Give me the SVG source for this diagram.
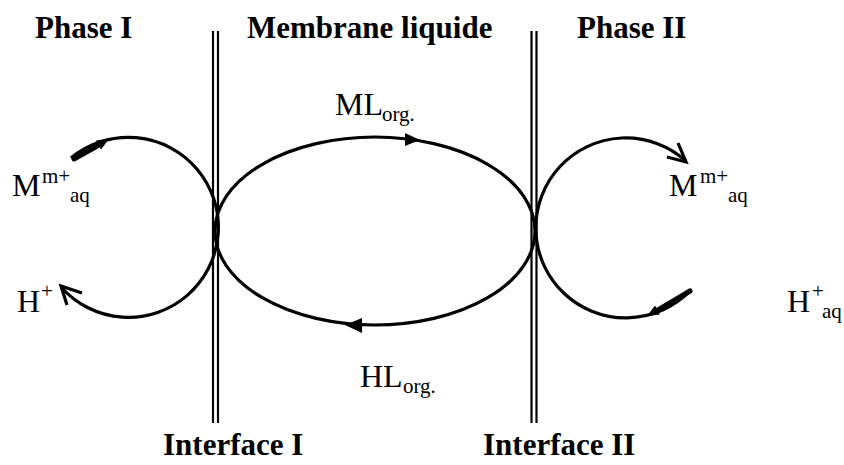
<svg xmlns="http://www.w3.org/2000/svg" width="844" height="465" viewBox="0 0 844 465">
<style>
.t{font-family:"Liberation Serif","Times New Roman",serif;fill:#000}
.b{font-weight:bold;font-size:31px}
.n{font-size:32px}
.s{font-size:21px}
.ln{stroke:#000;stroke-width:2.2;fill:none}
.c{stroke:#000;stroke-width:3.2;fill:none}
.thick{stroke:#000;stroke-width:5;fill:none;stroke-linecap:round}
.h{fill:#000;stroke:none}
</style>
<rect width="844" height="465" fill="#fff"/>
<g id="labels">
<text class="t b" x="35" y="38">Phase I</text>
<text class="t b" x="247" y="38">Membrane liquide</text>
<text class="t b" x="577" y="38">Phase II</text>
<text class="t b" x="163" y="455">Interface I</text>
<text class="t b" x="483" y="455">Interface II</text>
</g>
<g id="interface1">
<line class="ln" x1="213" y1="31" x2="213" y2="423"/>
<line class="ln" x1="218" y1="31" x2="218" y2="423"/>
</g>
<g id="interface2">
<line class="ln" x1="531.5" y1="31" x2="531.5" y2="423"/>
<line class="ln" x1="536.5" y1="31" x2="536.5" y2="423"/>
</g>
<g id="M-left"><text class="t n" x="12" y="196">M</text><text class="t s" x="42" y="183">m+</text><text class="t s" x="70" y="202">aq</text></g>
<g id="H-left"><text class="t n" x="17" y="312">H</text><text class="t s" x="41" y="298">+</text></g>
<g id="ML"><text class="t n" x="335" y="115">ML</text><text class="t s" x="382" y="121">org.</text></g>
<g id="HL"><text class="t n" x="360" y="387">HL</text><text class="t s" x="403" y="393">org.</text></g>
<g id="M-right"><text class="t n" x="669" y="196">M</text><text class="t s" x="700" y="183">m+</text><text class="t s" x="728" y="202">aq</text></g>
<g id="H-right"><text class="t n" x="787" y="312">H</text><text class="t s" x="812" y="298">+</text><text class="t s" x="822" y="318">aq</text></g>
<g id="connectors">
<path class="c" d="M71,158 A90 90 0 1 1 61,287"/>
<line class="thick" x1="74" y1="159" x2="99" y2="145"/>
<polygon class="h" points="109,139 101,149.5 96,140.5"/>
<polyline class="c" points="82,293 61,286 67,305"/>
<ellipse class="c" cx="375" cy="231" rx="160" ry="94"/>
<polygon class="h" points="420,140 405,133 405,146"/>
<polygon class="h" points="345,325 362,318 362,333"/>
<path class="c" d="M686,161 A90 90 0 1 0 690,291"/>
<polyline class="c" points="678,143 686,162 667,157"/>
<line class="thick" x1="690" y1="291" x2="658" y2="310"/>
<polygon class="h" points="647,316 660,314.5 655,305.5"/>
</g>
</svg>
